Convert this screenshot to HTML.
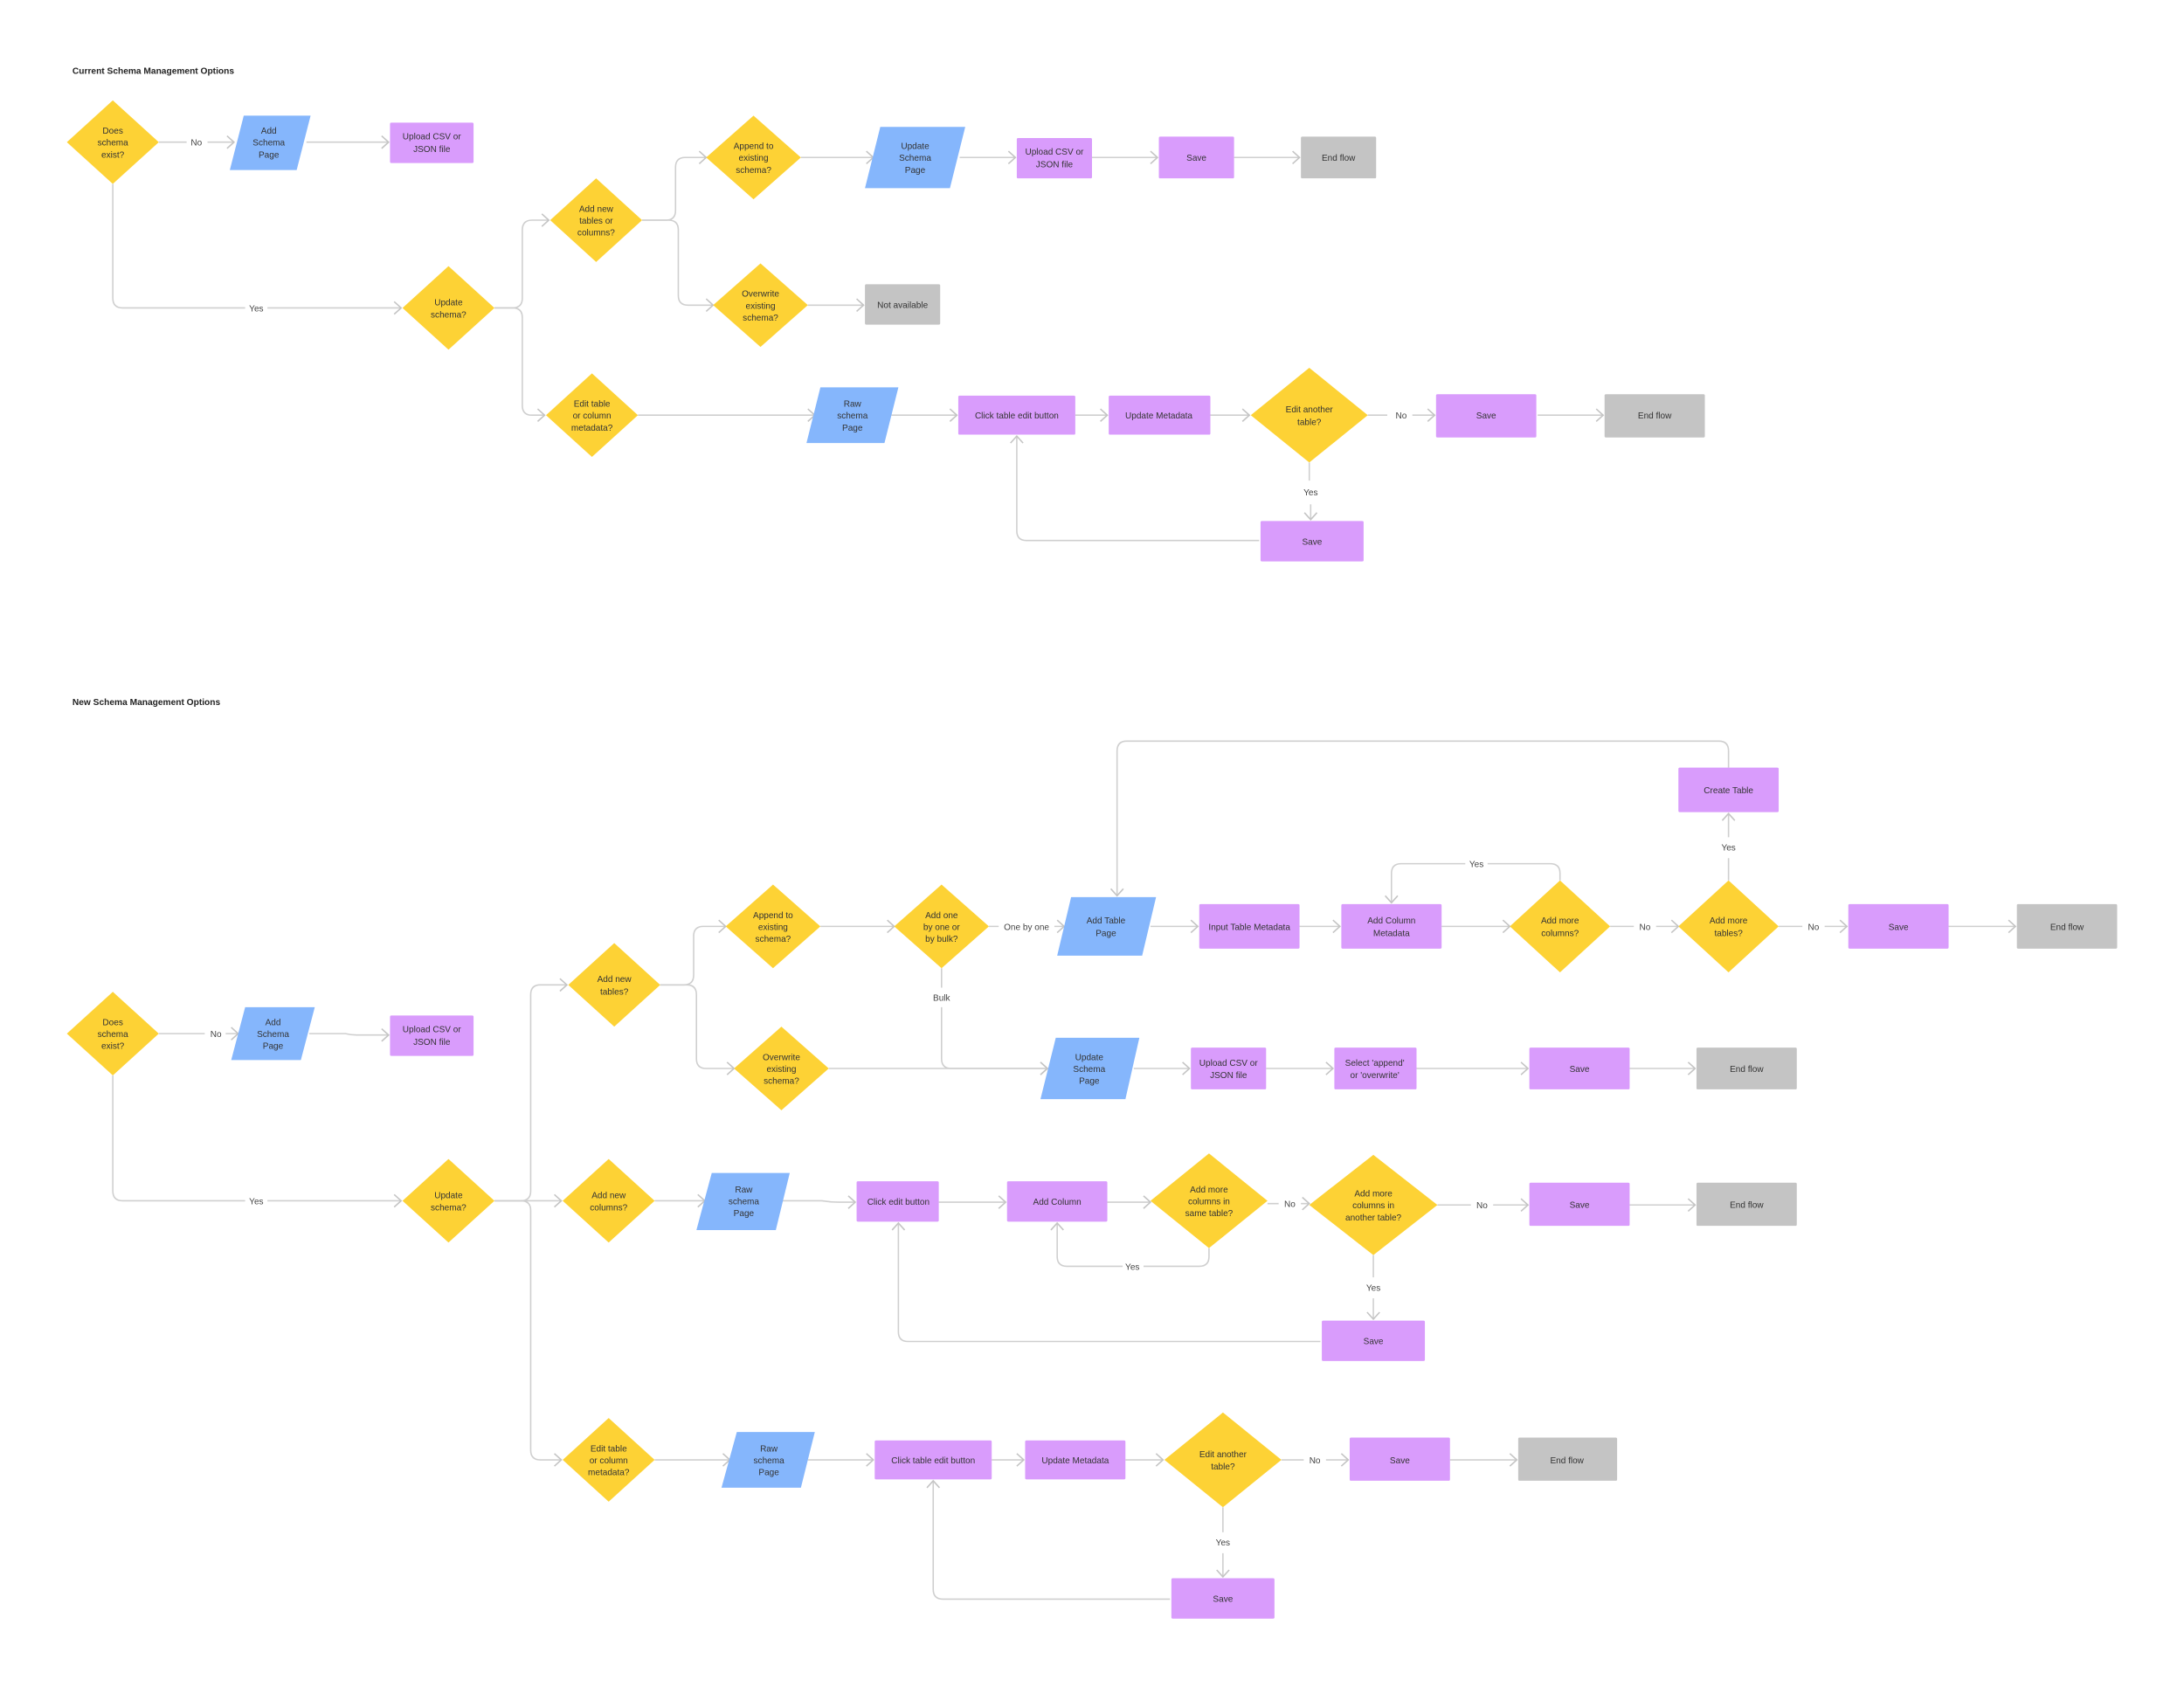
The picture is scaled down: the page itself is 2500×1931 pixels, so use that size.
<!DOCTYPE html>
<html><head><meta charset="utf-8"><style>
html,body{margin:0;padding:0;background:#fff;}
svg{display:block;}
text{font-family:"Liberation Sans",sans-serif;font-size:6.3px;fill:#333;text-anchor:middle;}
.t{font-weight:bold;text-anchor:start;font-size:6.4px;fill:#222;}
.l{fill:#444;}
.c{fill:none;stroke:#cfcfcf;stroke-width:1;stroke-linejoin:round;}
.y{fill:#FDD235;}
.b{fill:#85B6FC;}
.p{fill:#D99CFC;}
.g{fill:#C4C4C4;}
</style></head><body>
<svg width="2500" height="1931" viewBox="0 0 1568 1211" xmlns="http://www.w3.org/2000/svg">
<defs>
<marker id="a" markerUnits="userSpaceOnUse" markerWidth="12" markerHeight="12" refX="0" refY="0" viewBox="-7 -6 9 12" orient="auto" overflow="visible">
<path d="M-5,-4.5 L0,0 L-5,4.5" fill="none" stroke="#c4c4c4" stroke-width="1"/>
</marker>
</defs>

<!-- SECTION 1 -->
<text class="t" x="52" y="53">Current Schema Management Options</text>

<!-- connectors -->
<g class="c" marker-end="url(#a)">
<path d="M114,102 H134 M149,102 H168"/>
<path d="M220,102 H279"/>
<path d="M81,132 V214 Q81,221 88,221 H176 M192,221 H288"/>
<path d="M355,221 H368 Q375,221 375,214 V165 Q375,158 382,158 H394"/>
<path d="M355,221 H368 Q375,221 375,228 V291 Q375,298 382,298 H391"/>
<path d="M461,158 H478 Q485,158 485,151 V120 Q485,113 492,113 H507"/>
<path d="M461,158 H480 Q487,158 487,165 V212 Q487,219 494,219 H512"/>
<path d="M575,113 H627"/>
<path d="M689,113 H729"/>
<path d="M784,113 H831"/>
<path d="M886,113 H933"/>
<path d="M580,219 H620"/>
<path d="M458,298 H585"/>
<path d="M640,298 H687"/>
<path d="M772,298 H795"/>
<path d="M869,298 H897"/>
<path d="M982,298 H996 M1014,298 H1030"/>
<path d="M1104,298 H1151"/>
<path d="M940,332 V345 M941,362 V373"/>
<path d="M904,388 H737 Q730,388 730,381 V313"/>
</g>
<text class="l" x="141" y="104.5">No</text>
<text class="l" x="184" y="223.5">Yes</text>
<text class="l" x="1006" y="300.5">No</text>
<text class="l" x="941" y="355.5">Yes</text>

<!-- shapes -->
<polygon class="y" points="81,72 114,102 81,132 48,102"/>
<text x="81" y="96">Does</text><text x="81" y="104.5">schema</text><text x="81" y="113">exist?</text>
<polygon class="b" points="175,83 223,83 213,122 165,122"/>
<text x="193" y="96">Add</text><text x="193" y="104.5">Schema</text><text x="193" y="113">Page</text>
<rect class="p" x="280" y="88" width="60" height="29" rx="1"/>
<text x="310" y="100">Upload CSV or</text><text x="310" y="109">JSON file</text>
<polygon class="y" points="322,191 355,221 322,251 289,221"/>
<text x="322" y="219">Update</text><text x="322" y="228">schema?</text>
<polygon class="y" points="428,128 461,158 428,188 395,158"/>
<text x="428" y="152">Add new</text><text x="428" y="160.5">tables or</text><text x="428" y="169">columns?</text>
<polygon class="y" points="541,83 575,113 541,143 507,113"/>
<text x="541" y="107">Append to</text><text x="541" y="115.5">existing</text><text x="541" y="124">schema?</text>
<polygon class="y" points="546,189 580,219 546,249 512,219"/>
<text x="546" y="213">Overwrite</text><text x="546" y="221.5">existing</text><text x="546" y="230">schema?</text>
<polygon class="b" points="632,91 693,91 682,135 621,135"/>
<text x="657" y="107">Update</text><text x="657" y="115.5">Schema</text><text x="657" y="124">Page</text>
<rect class="p" x="730" y="99" width="54" height="29" rx="1"/>
<text x="757" y="111">Upload CSV or</text><text x="757" y="120">JSON file</text>
<rect class="p" x="832" y="98" width="54" height="30" rx="1"/>
<text x="859" y="115.5">Save</text>
<rect class="g" x="934" y="98" width="54" height="30" rx="1"/>
<text x="961" y="115.5">End flow</text>
<rect class="g" x="621" y="204" width="54" height="29" rx="1"/>
<text x="648" y="221">Not available</text>
<polygon class="y" points="425,268 458,298 425,328 392,298"/>
<text x="425" y="292">Edit table</text><text x="425" y="300.5">or column</text><text x="425" y="309">metadata?</text>
<polygon class="b" points="589,278 645,278 635,318 579,318"/>
<text x="612" y="292">Raw</text><text x="612" y="300.5">schema</text><text x="612" y="309">Page</text>
<rect class="p" x="688" y="284" width="84" height="28" rx="1"/>
<text x="730" y="300.5">Click table edit button</text>
<rect class="p" x="796" y="284" width="73" height="28" rx="1"/>
<text x="832" y="300.5">Update Metadata</text>
<polygon class="y" points="940,264 982,298 940,332 898,298"/>
<text x="940" y="296">Edit another</text><text x="940" y="305">table?</text>
<rect class="p" x="1031" y="283" width="72" height="31" rx="1"/>
<text x="1067" y="300.5">Save</text>
<rect class="g" x="1152" y="283" width="72" height="31" rx="1"/>
<text x="1188" y="300.5">End flow</text>
<rect class="p" x="905" y="374" width="74" height="29" rx="1"/>
<text x="942" y="391">Save</text>

<!-- SECTION 2 -->
<text class="t" x="52" y="506">New Schema Management Options</text>

<g class="c" marker-end="url(#a)">
<path d="M114,742 H147 M162,742 H171"/>
<path d="M222,742 H248 Q252,743 256,743 H279"/>
<path d="M81,772 V855 Q81,862 88,862 H176 M192,862 H288"/>
<path d="M355,862 H374 Q381,862 381,855 V714 Q381,707 388,707 H407"/>
<path d="M355,862 H403"/>
<path d="M355,862 H374 Q381,862 381,869 V1041 Q381,1048 388,1048 H403"/>
<path d="M474,707 H491 Q498,707 498,700 V672 Q498,665 505,665 H521"/>
<path d="M474,707 H493 Q500,707 500,714 V760 Q500,767 507,767 H527"/>
<path d="M589,665 H642"/>
<path d="M710,665 H717 M757,665 H764"/>
<path d="M676,695 V709 M676,723 V760 Q676,767 683,767 H752"/>
<path d="M595,767 H752"/>
<path d="M826,665 H860"/>
<path d="M933,665 H962"/>
<path d="M1035,665 H1084"/>
<path d="M1120,632 V627 Q1120,620 1113,620 H1068 M1052,620 H1006 Q999,620 999,627 V648"/>
<path d="M1156,665 H1173 M1189,665 H1205"/>
<path d="M1241,632 V616 M1241,601 V584"/>
<path d="M1241,551 V539 Q1241,532 1234,532 H809 Q802,532 802,539 V643"/>
<path d="M1277,665 H1294 M1310,665 H1326"/>
<path d="M1399,665 H1447"/>
<path d="M814,767 H854"/>
<path d="M909,767 H957"/>
<path d="M1017,767 H1097"/>
<path d="M1170,767 H1217"/>
<path d="M470,862 H506"/>
<path d="M562,862 H590 Q596,863 602,863 H614"/>
<path d="M674,863 H722"/>
<path d="M795,863 H826"/>
<path d="M868,896 V902 Q868,909 861,909 H821 M806,909 H766 Q759,909 759,902 V878"/>
<path d="M910,864 H918 M934,864 H940"/>
<path d="M1032,865 H1056 M1072,865 H1097"/>
<path d="M1170,865 H1217"/>
<path d="M986,901 V917 M986,932 V947"/>
<path d="M948,963 H652 Q645,963 645,956 V878"/>
<path d="M470,1048 H524"/>
<path d="M580,1048 H627"/>
<path d="M712,1048 H735"/>
<path d="M808,1048 H835"/>
<path d="M920,1048 H936 M952,1048 H968"/>
<path d="M1041,1048 H1089"/>
<path d="M878,1082 V1100 M878,1115 V1132"/>
<path d="M840,1148 H677 Q670,1148 670,1141 V1063"/>
</g>
<text class="l" x="155" y="744.5">No</text>
<text class="l" x="184" y="864.5">Yes</text>
<text class="l" x="737" y="667.5">One by one</text>
<text class="l" x="676" y="718.5">Bulk</text>
<text class="l" x="1060" y="622.5">Yes</text>
<text class="l" x="1181" y="667.5">No</text>
<text class="l" x="1241" y="610.5">Yes</text>
<text class="l" x="1302" y="667.5">No</text>
<text class="l" x="813" y="911.5">Yes</text>
<text class="l" x="926" y="866.5">No</text>
<text class="l" x="1064" y="867.5">No</text>
<text class="l" x="986" y="926.5">Yes</text>
<text class="l" x="944" y="1050.5">No</text>
<text class="l" x="878" y="1109.5">Yes</text>

<polygon class="y" points="81,712 114,742 81,772 48,742"/>
<text x="81" y="736">Does</text><text x="81" y="744.5">schema</text><text x="81" y="753">exist?</text>
<polygon class="b" points="176,723 226,723 216,761 166,761"/>
<text x="196" y="736">Add</text><text x="196" y="744.5">Schema</text><text x="196" y="753">Page</text>
<rect class="p" x="280" y="729" width="60" height="29" rx="1"/>
<text x="310" y="741">Upload CSV or</text><text x="310" y="750">JSON file</text>
<polygon class="y" points="322,832 355,862 322,892 289,862"/>
<text x="322" y="860">Update</text><text x="322" y="869">schema?</text>
<polygon class="y" points="441,677 474,707 441,737 408,707"/>
<text x="441" y="705">Add new</text><text x="441" y="714">tables?</text>
<polygon class="y" points="555,635 589,665 555,695 521,665"/>
<text x="555" y="659">Append to</text><text x="555" y="667.5">existing</text><text x="555" y="676">schema?</text>
<polygon class="y" points="561,737 595,767 561,797 527,767"/>
<text x="561" y="761">Overwrite</text><text x="561" y="769.5">existing</text><text x="561" y="778">schema?</text>
<polygon class="y" points="676,635 710,665 676,695 642,665"/>
<text x="676" y="659">Add one</text><text x="676" y="667.5">by one or</text><text x="676" y="676">by bulk?</text>
<polygon class="b" points="769,644 830,644 820,686 759,686"/>
<text x="794" y="663">Add Table</text><text x="794" y="672">Page</text>
<rect class="p" x="861" y="649" width="72" height="32" rx="1"/>
<text x="897" y="667.5">Input Table Metadata</text>
<rect class="p" x="963" y="649" width="72" height="32" rx="1"/>
<text x="999" y="663">Add Column</text><text x="999" y="672">Metadata</text>
<polygon class="y" points="1120,632 1156,665 1120,698 1084,665"/>
<text x="1120" y="663">Add more</text><text x="1120" y="672">columns?</text>
<polygon class="y" points="1241,632 1277,665 1241,698 1205,665"/>
<text x="1241" y="663">Add more</text><text x="1241" y="672">tables?</text>
<rect class="p" x="1205" y="551" width="72" height="32" rx="1"/>
<text x="1241" y="569.5">Create Table</text>
<rect class="p" x="1327" y="649" width="72" height="32" rx="1"/>
<text x="1363" y="667.5">Save</text>
<rect class="g" x="1448" y="649" width="72" height="32" rx="1"/>
<text x="1484" y="667.5">End flow</text>
<polygon class="b" points="758,745 818,745 808,789 747,789"/>
<text x="782" y="761">Update</text><text x="782" y="769.5">Schema</text><text x="782" y="778">Page</text>
<rect class="p" x="855" y="752" width="54" height="30" rx="1"/>
<text x="882" y="765">Upload CSV or</text><text x="882" y="774">JSON file</text>
<rect class="p" x="958" y="752" width="59" height="30" rx="1"/>
<text x="987" y="765">Select 'append'</text><text x="987" y="774">or 'overwrite'</text>
<rect class="p" x="1098" y="752" width="72" height="30" rx="1"/>
<text x="1134" y="769.5">Save</text>
<rect class="g" x="1218" y="752" width="72" height="30" rx="1"/>
<text x="1254" y="769.5">End flow</text>

<polygon class="y" points="437,832 470,862 437,892 404,862"/>
<text x="437" y="860">Add new</text><text x="437" y="869">columns?</text>
<polygon class="b" points="511,842 567,842 557,883 500,883"/>
<text x="534" y="856">Raw</text><text x="534" y="864.5">schema</text><text x="534" y="873">Page</text>
<rect class="p" x="615" y="848" width="59" height="29" rx="1"/>
<text x="645" y="865">Click edit button</text>
<rect class="p" x="723" y="848" width="72" height="29" rx="1"/>
<text x="759" y="865">Add Column</text>
<polygon class="y" points="868,828 910,862 868,896 826,862"/>
<text x="868" y="856">Add more</text><text x="868" y="864.5">columns in</text><text x="868" y="873">same table?</text>
<polygon class="y" points="986,829 1032,865 986,901 940,865"/>
<text x="986" y="859">Add more</text><text x="986" y="867.5">columns in</text><text x="986" y="876">another table?</text>
<rect class="p" x="1098" y="849" width="72" height="31" rx="1"/>
<text x="1134" y="867">Save</text>
<rect class="g" x="1218" y="849" width="72" height="31" rx="1"/>
<text x="1254" y="867">End flow</text>
<rect class="p" x="949" y="948" width="74" height="29" rx="1"/>
<text x="986" y="965">Save</text>

<polygon class="y" points="437,1018 470,1048 437,1078 404,1048"/>
<text x="437" y="1042">Edit table</text><text x="437" y="1050.5">or column</text><text x="437" y="1059">metadata?</text>
<polygon class="b" points="529,1028 585,1028 575,1068 518,1068"/>
<text x="552" y="1042">Raw</text><text x="552" y="1050.5">schema</text><text x="552" y="1059">Page</text>
<rect class="p" x="628" y="1034" width="84" height="28" rx="1"/>
<text x="670" y="1050.5">Click table edit button</text>
<rect class="p" x="736" y="1034" width="72" height="28" rx="1"/>
<text x="772" y="1050.5">Update Metadata</text>
<polygon class="y" points="878,1014 920,1048 878,1082 836,1048"/>
<text x="878" y="1046">Edit another</text><text x="878" y="1055">table?</text>
<rect class="p" x="969" y="1032" width="72" height="31" rx="1"/>
<text x="1005" y="1050.5">Save</text>
<rect class="g" x="1090" y="1032" width="71" height="31" rx="1"/>
<text x="1125" y="1050.5">End flow</text>
<rect class="p" x="841" y="1133" width="74" height="29" rx="1"/>
<text x="878" y="1150">Save</text>
</svg>
</body></html>
